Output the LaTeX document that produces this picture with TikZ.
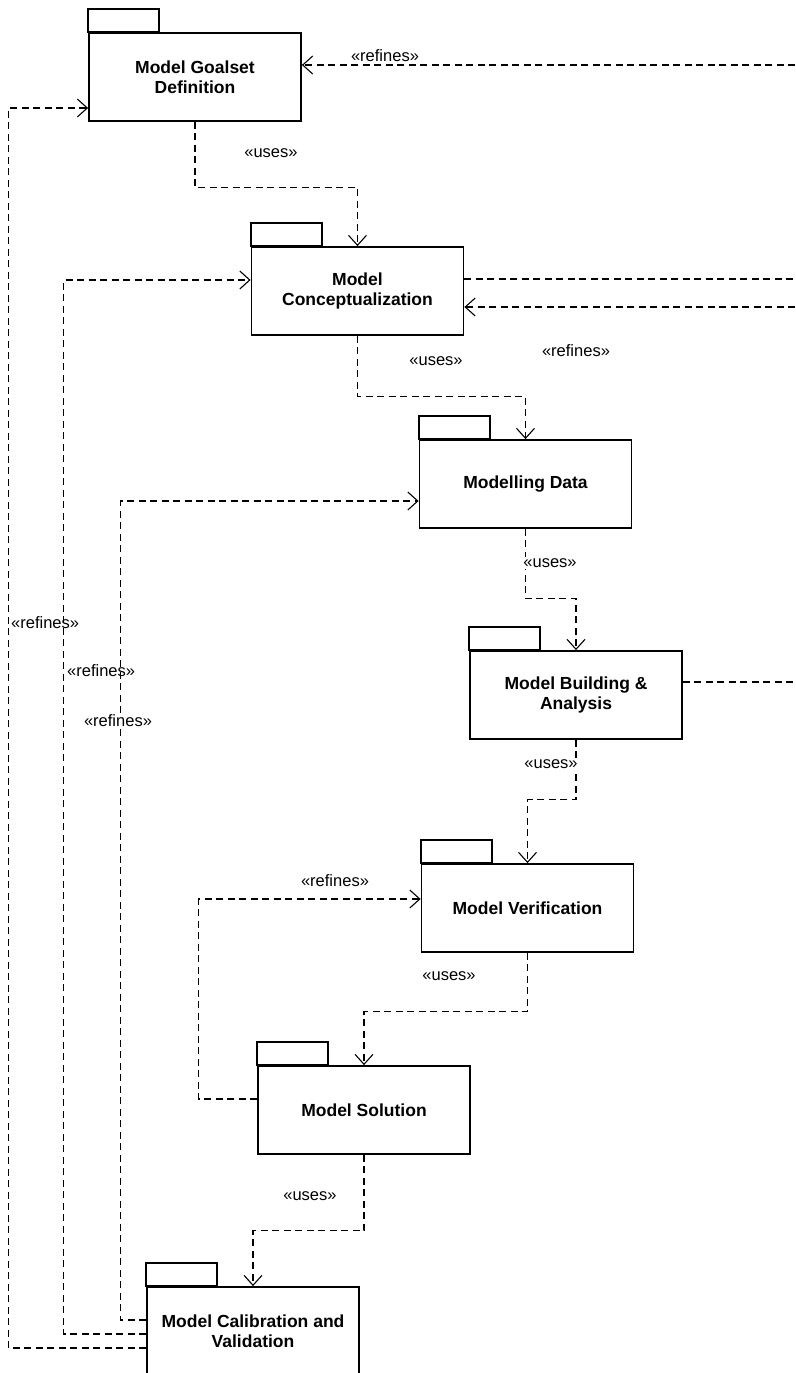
\documentclass[tikz,border=0pt]{standalone}
\usepackage{fontspec}
\setmainfont{Liberation Sans}
\usetikzlibrary{arrows.meta,calc}
\begin{document}
\begin{tikzpicture}[x=1pt,y=-1pt,
  pkg/.style={draw,line width=1.8pt,minimum width=212pt,minimum height=88pt,inner sep=0pt,align=center,font=\fontsize{17.5}{20.5}\selectfont\bfseries},
  pkgtab/.style={draw,line width=1.8pt},
  dep/.style={dash pattern=on 7pt off 4.5pt,line width=1.1pt},
  arr/.style={-{Straight Barb[length=10pt,width=18pt]}},
  lbl/.style={font=\fontsize{16.5}{19}\selectfont,inner sep=1pt},
  lblw/.style={lbl,fill=white}]
\useasboundingbox (0,0) rectangle (795,1373);
\fill[white] (0,0) rectangle (795,1373);
\clip (0,0) rectangle (795,1373);

% packages
\node[pkg] (p1) at (195,77) {Model Goalset\\Definition};
\node[pkg] (p2) at (357.5,291) {Model\\Conceptualization};
\node[pkg] (p3) at (525.5,484) {Modelling Data};
\node[pkg] (p4) at (576,695) {Model Building \&\\Analysis};
\node[pkg] (p5) at (527.5,908) {Model Verification};
\node[pkg] (p6) at (364,1110) {Model Solution};
\node[pkg] (p7) at (253,1331) {Model Calibration and\\Validation};
\foreach \p in {p1,p2,p3,p4,p5,p6,p7}{
  \draw[pkgtab] (\p.north west) rectangle ++(71,-23);
}

% uses
\draw[dep,arr] (p1.south) -- ++(0,66) -| (p2.north);
\draw[dep,arr] (p2.south) -- ++(0,61) -| (p3.north);
\draw[dep,arr] (p3.south) -- ++(0,70) -| (p4.north);
\draw[dep,arr] (p4.south) -- ++(0,60) -| (p5.north);
\draw[dep,arr] (p5.south) -- ++(0,59) -| (p6.north);
\draw[dep,arr] (p6.south) -- ++(0,76) -| (p7.north);

\node[lbl] (u1) at (271,153) {«uses»};
\node[lbl] (u2) at (436,361) {«uses»};
\node[lblw] (u3) at (550,563) {«uses»};
\node[lblw] (u4) at (551,764) {«uses»};
\node[lbl] (u5) at (449,976) {«uses»};
\node[lbl] (u6) at (310,1196) {«uses»};

% refines on the left
\draw[dep,arr] ([yshift=-17pt]p7.west) -| ([xshift=-80pt,yshift=-31pt]p1.west) -- ([yshift=-31pt]p1.west);
\draw[dep,arr] ([yshift=-3pt]p7.west) -| ([xshift=-187pt,yshift=11pt]p2.west) -- ([yshift=11pt]p2.west);
\draw[dep,arr] ([yshift=11pt]p7.west) -| ([xshift=-298pt,yshift=-17pt]p3.west) -- ([yshift=-17pt]p3.west);
\draw[dep,arr] ([yshift=11pt]p6.west) -| ([xshift=-222pt,yshift=9pt]p5.west) -- ([yshift=9pt]p5.west);

\node[lbl,anchor=west] (r1) at (10,623) {«refines»};
\node[lbl,anchor=west] (r2) at (66,671) {«refines»};
\node[lblw] (r3) at (118,721) {«refines»};
\node[lbl] (r4) at (335,881) {«refines»};

% refines on the right
\coordinate (e1) at (795,65);
\coordinate (e2) at (795,279);
\coordinate (e3) at (795,307);
\coordinate (e4) at (795,682);
\draw[dep,arr] (e1) -- ([yshift=12pt]p1.east);
\draw[dep] ([yshift=12pt]p2.east) -- (e2);
\draw[dep,arr] (e3) -- ([yshift=-16pt]p2.east);
\draw[dep] ([yshift=13pt]p4.east) -- (e4);

\node[lbl] (r5) at (385,56) {«refines»};
\node[lbl] (r6) at (576,351) {«refines»};
\end{tikzpicture}
\end{document}
